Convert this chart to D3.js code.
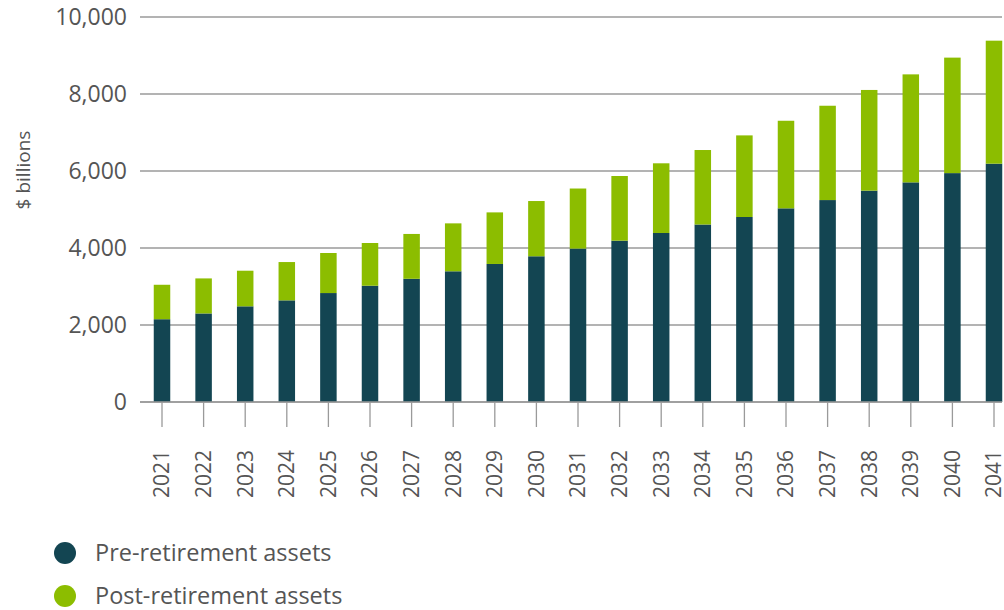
<!DOCTYPE html>
<html>
<head>
<meta charset="utf-8">
<script src="https://cdn.jsdelivr.net/npm/d3@7"></script>
<style>
  html, body { margin: 0; padding: 0; background: #fff; }
  svg { display: block; font-family: "Open Sans", "Noto Sans", sans-serif; }
</style>
</head>
<body>
<svg id="chart" width="1004" height="610"></svg>
<script>
const years = ["2021","2022","2023","2024","2025","2026","2027","2028","2029","2030","2031","2032","2033","2034","2035","2036","2037","2038","2039","2040","2041"];
const preRetirement = [2150,2300,2485,2640,2830,3020,3200,3395,3585,3785,3985,4190,4390,4610,4805,5030,5245,5490,5705,5945,6190];
const totalAssets = [3045,3210,3410,3635,3870,4130,4365,4640,4925,5220,5545,5870,6200,6545,6925,7305,7695,8105,8510,8945,9385];
const postRetirement = totalAssets.map((t, i) => t - preRetirement[i]);
const yTicks = [0, 2000, 4000, 6000, 8000, 10000];
const seriesNames = ["Pre-retirement assets", "Post-retirement assets"];
const seriesColors = ["#134552", "#8cbd00"];

const svg = d3.select("#chart");
const textColor = "#555";
const gridColor = "#9a9a9a";

const x = d3.scalePoint().domain(years).range([162, 994]);
const y = d3.scaleLinear().domain([0, 10000]).range([402, 17]);
const barW = 16.5;
const gridX0 = 140, gridX1 = 1002;

// gridlines
svg.append("g").selectAll("line").data(yTicks).join("line")
  .attr("x1", gridX0).attr("x2", gridX1)
  .attr("y1", d => y(d)).attr("y2", d => y(d))
  .attr("stroke", gridColor).attr("stroke-width", 1.3);

// y tick labels
svg.append("g").selectAll("text").data(yTicks).join("text")
  .attr("x", 127).attr("y", d => y(d)).attr("dy", "0.35em")
  .attr("text-anchor", "end")
  .attr("font-size", 23).attr("fill", textColor)
  .text(d => d3.format(",")(d));

// y axis title
svg.append("text")
  .attr("transform", "translate(30,170) rotate(-90)")
  .attr("text-anchor", "middle")
  .attr("font-size", 19).attr("fill", textColor)
  .text("$ billions");

// stacked bars
const stackData = years.map((yr, i) => ({ year: yr, pre: preRetirement[i], post: postRetirement[i] }));
const stack = d3.stack().keys(["pre", "post"])(stackData);
svg.append("g").selectAll("g").data(stack).join("g")
  .attr("fill", (d, i) => seriesColors[i])
  .selectAll("rect").data(d => d).join("rect")
  .attr("x", d => x(d.data.year) - barW / 2)
  .attr("width", barW)
  .attr("y", d => y(d[1]))
  .attr("height", d => y(d[0]) - y(d[1]));

// baseline redraw on top
svg.append("line")
  .attr("x1", gridX0).attr("x2", gridX1)
  .attr("y1", y(0)).attr("y2", y(0))
  .attr("stroke", gridColor).attr("stroke-width", 1.3);

// x ticks
svg.append("g").selectAll("line").data(years).join("line")
  .attr("x1", d => x(d)).attr("x2", d => x(d))
  .attr("y1", y(0)).attr("y2", y(0) + 25)
  .attr("stroke", gridColor).attr("stroke-width", 1.3);

// x labels rotated
svg.append("g").selectAll("text").data(years).join("text")
  .attr("transform", d => `translate(${x(d)},450) rotate(-90)`)
  .attr("text-anchor", "end").attr("dy", "0.35em")
  .attr("font-size", 21).attr("fill", textColor)
  .text(d => d);

// legend
const legend = svg.append("g").selectAll("g").data(seriesNames).join("g")
  .attr("transform", (d, i) => `translate(65,${553 + i * 43})`);
legend.append("circle").attr("r", 11).attr("fill", (d, i) => seriesColors[i]);
legend.append("text").attr("x", 30).attr("dy", "0.35em")
  .attr("font-size", 23.5).attr("fill", textColor)
  .text(d => d);
</script>
</body>
</html>
